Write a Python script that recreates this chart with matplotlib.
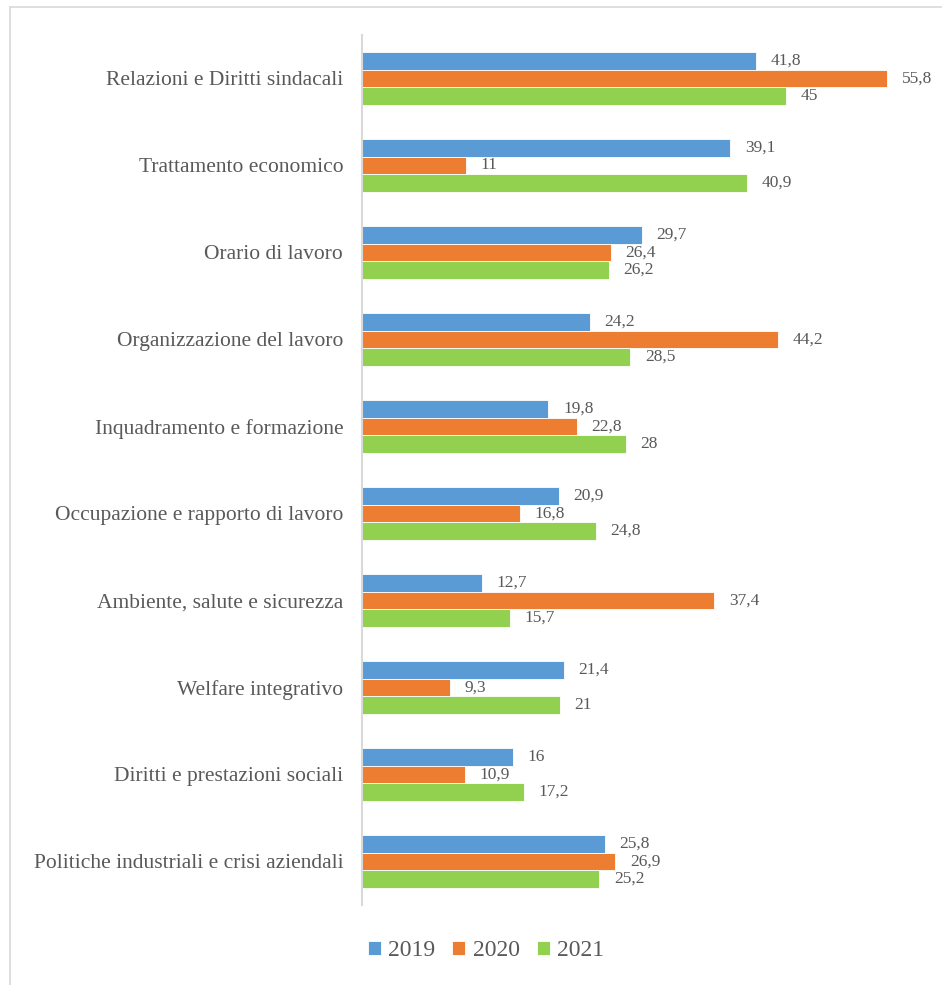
import matplotlib
matplotlib.use("Agg")
import matplotlib.pyplot as plt
from matplotlib.lines import Line2D
import numpy as np

categories = [
    "Relazioni e Diritti sindacali",
    "Trattamento economico",
    "Orario di lavoro",
    "Organizzazione del lavoro",
    "Inquadramento e formazione",
    "Occupazione e rapporto di lavoro",
    "Ambiente, salute e sicurezza",
    "Welfare integrativo",
    "Diritti e prestazioni sociali",
    "Politiche industriali e crisi aziendali",
]
v2019 = [41.8, 39.1, 29.7, 24.2, 19.8, 20.9, 12.7, 21.4, 16, 25.8]
v2020 = [55.8, 11, 26.4, 44.2, 22.8, 16.8, 37.4, 9.3, 10.9, 26.9]
v2021 = [45, 40.9, 26.2, 28.5, 28, 24.8, 15.7, 21, 17.2, 25.2]
series_names = ["2019", "2020", "2021"]
colors = ["#5B9BD5", "#ED7D31", "#92D050"]

plt.rcParams['font.family'] = ['Liberation Serif', 'DejaVu Serif']
text_color = "#595959"

W, H = 942, 985
fig = plt.figure(figsize=(W / 100, H / 100), dpi=100)
ax = fig.add_axes([362 / W, 1 - 905 / H, (927 - 362) / W, 870 / H])

n = len(categories)
y = np.arange(n)
bh = 0.2
series = [v2019, v2020, v2021]
for i, (vals, c) in enumerate(zip(series, colors)):
    pos = y + (i - 1) * bh
    ax.barh(pos, vals, height=bh, color=c, edgecolor="white", linewidth=0.6, label=series_names[i])
    for p, v in zip(pos, vals):
        lab = ("%g" % v).replace(".", ",")
        ax.annotate(lab, (v, p), xytext=(10.5, 0), textcoords="offset points",
                    va="center", ha="left", fontsize=12.5, color=text_color)

ax.set_xlim(0, 60)
ax.set_ylim(n - 0.5, -0.5)
ax.set_yticks(y)
ax.set_yticklabels(categories, fontsize=15.5, color=text_color)
ax.tick_params(axis="y", length=0, pad=13.5)
ax.set_xticks([])
for s in ["top", "right", "bottom"]:
    ax.spines[s].set_visible(False)
ax.spines["left"].set_color("#d9d9d9")
ax.spines["left"].set_linewidth(1.5)

leg = fig.legend(loc="center", bbox_to_anchor=(486 / W, 1 - 951 / H), ncol=3, frameon=False,
                 fontsize=17, handlelength=0.55, handleheight=0.55, handletextpad=0.3, columnspacing=0.75)
for t in leg.get_texts():
    t.set_color(text_color)

# outer border (top and left visible)
fig.add_artist(Line2D([10 / W, 1], [1 - 7 / H, 1 - 7 / H], color="#d9d9d9", lw=1.2, transform=fig.transFigure))
fig.add_artist(Line2D([10 / W, 10 / W], [0, 1 - 7 / H], color="#d9d9d9", lw=1.2, transform=fig.transFigure))

fig.savefig("out.png", dpi=100, facecolor="white")
